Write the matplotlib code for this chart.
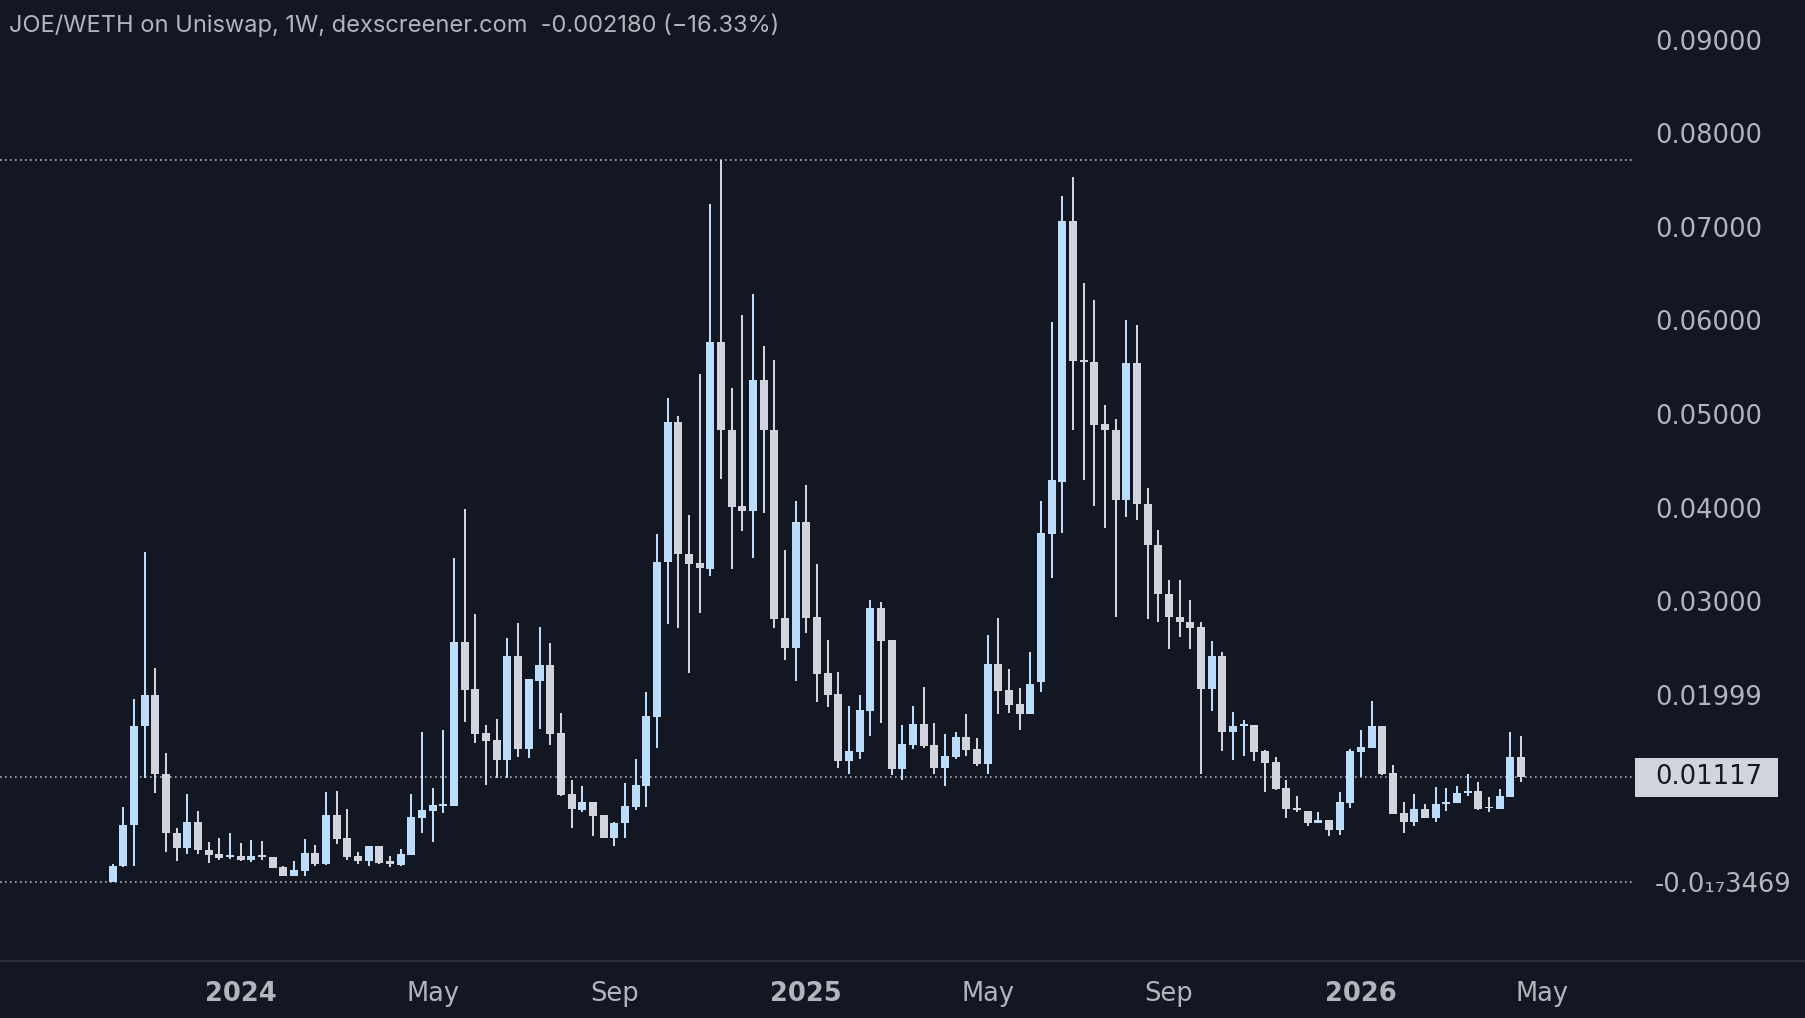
import matplotlib
matplotlib.use("Agg")
import matplotlib.pyplot as plt
import matplotlib.dates as mdates
from matplotlib.patches import Rectangle
from matplotlib.lines import Line2D
import numpy as np
import pandas as pd

# ---------------- data ----------------
first_week = "2023-10-09"
n_weeks = 133

opens = [0.00000, 0.00170, 0.00609, 0.01667, 0.01998, 0.01151, 0.00527, 0.00367, 0.00638, 0.00342,
         0.00299, 0.00270, 0.00278, 0.00235, 0.00288, 0.00264, 0.00164, 0.00068, 0.00118, 0.00313,
         0.00189, 0.00716, 0.00467, 0.00278, 0.00224, 0.00385, 0.00224, 0.00182, 0.00288, 0.00687,
         0.00759, 0.00815, 0.00812, 0.02561, 0.02059, 0.01595, 0.01517, 0.01303, 0.02415, 0.01421,
         0.02145, 0.02318, 0.01595, 0.00937, 0.00769, 0.00858, 0.00716, 0.00473, 0.00627, 0.00805,
         0.01029, 0.01766, 0.03414, 0.04913, 0.03507, 0.03405, 0.03344, 0.05764, 0.04824, 0.04018,
         0.03969, 0.05368, 0.04824, 0.02820, 0.02505, 0.03846, 0.02832, 0.02228, 0.02009, 0.01296,
         0.01392, 0.01827, 0.02931, 0.02585, 0.01207, 0.01464, 0.01688, 0.01464, 0.01221, 0.01332,
         0.01546, 0.01421, 0.01261, 0.02329, 0.02051, 0.01902, 0.01795, 0.02132, 0.03719, 0.04277,
         0.07067, 0.05570, 0.05556, 0.04896, 0.04830, 0.04085, 0.05546, 0.04043, 0.03599, 0.03075,
         0.02827, 0.02775, 0.02726, 0.02064, 0.02417, 0.01606, 0.01667, 0.01677, 0.01400, 0.01279,
         0.01001, 0.00787, 0.00759, 0.00627, 0.00662, 0.00556, 0.00847, 0.01392, 0.01435, 0.01667,
         0.01168, 0.00740, 0.00644, 0.00780, 0.00687, 0.00833, 0.00847, 0.00948, 0.00975, 0.00798,
         0.00780, 0.00911, 0.01335]
highs = [0.00190, 0.00805, 0.01955, 0.03522, 0.02283, 0.01375, 0.00574, 0.00937, 0.00759, 0.00424,
         0.00467, 0.00520, 0.00413, 0.00449, 0.00438, 0.00264, 0.00171, 0.00224, 0.00459, 0.00395,
         0.00965, 0.00972, 0.00777, 0.00317, 0.00385, 0.00385, 0.00278, 0.00349, 0.00937, 0.01600,
         0.01001, 0.01624, 0.03458, 0.03985, 0.02860, 0.01677, 0.01741, 0.02604, 0.02764, 0.02166,
         0.02721, 0.02550, 0.01802, 0.01090, 0.01029, 0.00858, 0.00716, 0.00645, 0.01054, 0.01314,
         0.02027, 0.03715, 0.05171, 0.04979, 0.03916, 0.05428, 0.07248, 0.07710, 0.05278, 0.06055,
         0.06279, 0.05726, 0.05580, 0.03547, 0.04067, 0.04243, 0.03397, 0.02587, 0.02247, 0.01880,
         0.01998, 0.03013, 0.02995, 0.02585, 0.01677, 0.01880, 0.02083, 0.01695, 0.01578, 0.01606,
         0.01795, 0.01535, 0.02639, 0.02817, 0.02276, 0.02076, 0.02454, 0.04067, 0.05984, 0.07334,
         0.07534, 0.06400, 0.06222, 0.05101, 0.04944, 0.06009, 0.05947, 0.04205, 0.03766, 0.03227,
         0.03227, 0.03013, 0.02775, 0.02574, 0.02455, 0.01811, 0.01731, 0.01677, 0.01410, 0.01332,
         0.01090, 0.00919, 0.00759, 0.00751, 0.00662, 0.00965, 0.01421, 0.01624, 0.01934, 0.01667,
         0.01250, 0.00858, 0.00940, 0.00833, 0.01012, 0.01001, 0.01026, 0.01154, 0.01065, 0.00911,
         0.00994, 0.01600, 0.01560]
lows = [0.00000, 0.00164, 0.00174, 0.01114, 0.00948, 0.00324, 0.00224, 0.00296, 0.00296, 0.00206,
        0.00235, 0.00246, 0.00224, 0.00217, 0.00235, 0.00153, 0.00068, 0.00068, 0.00064, 0.00171,
        0.00182, 0.00403, 0.00235, 0.00192, 0.00174, 0.00192, 0.00164, 0.00174, 0.00288, 0.00520,
        0.00424, 0.00740, 0.00812, 0.01713, 0.01488, 0.01036, 0.01108, 0.01108, 0.01339, 0.01328,
        0.01635, 0.01464, 0.00922, 0.00580, 0.00751, 0.00495, 0.00473, 0.00388, 0.00473, 0.00769,
        0.00805, 0.01428, 0.02758, 0.02709, 0.02228, 0.02874, 0.03273, 0.04305, 0.03344, 0.03752,
        0.03466, 0.03944, 0.02718, 0.02371, 0.02150, 0.02660, 0.01924, 0.01872, 0.01215, 0.01154,
        0.01314, 0.01560, 0.01702, 0.01143, 0.01090, 0.01421, 0.01435, 0.01154, 0.01026, 0.01314,
        0.01346, 0.01239, 0.01154, 0.01795, 0.01809, 0.01624, 0.01795, 0.02030, 0.03251, 0.03733,
        0.04830, 0.04300, 0.04019, 0.03781, 0.02827, 0.03895, 0.03872, 0.02812, 0.02775, 0.02488,
        0.02622, 0.02488, 0.01157, 0.01825, 0.01396, 0.01300, 0.01349, 0.01296, 0.00965, 0.00983,
        0.00687, 0.00751, 0.00602, 0.00627, 0.00495, 0.00502, 0.00794, 0.01119, 0.01435, 0.01139,
        0.00726, 0.00520, 0.00602, 0.00687, 0.00638, 0.00762, 0.00840, 0.00922, 0.00769, 0.00745,
        0.00780, 0.00911, 0.01065]
closes = [0.00170, 0.00609, 0.01667, 0.01998, 0.01151, 0.00527, 0.00367, 0.00638, 0.00342, 0.00288,
          0.00260, 0.00288, 0.00235, 0.00278, 0.00270, 0.00153, 0.00068, 0.00128, 0.00313, 0.00189,
          0.00716, 0.00456, 0.00264, 0.00224, 0.00385, 0.00206, 0.00189, 0.00299, 0.00698, 0.00769,
          0.00823, 0.00833, 0.02561, 0.02051, 0.01581, 0.01510, 0.01303, 0.02415, 0.01421, 0.02166,
          0.02318, 0.01581, 0.00929, 0.00777, 0.00858, 0.00709, 0.00473, 0.00634, 0.00812, 0.01036,
          0.01773, 0.03416, 0.04913, 0.03499, 0.03401, 0.03351, 0.05764, 0.04824, 0.04010, 0.03969,
          0.05368, 0.04824, 0.02812, 0.02505, 0.03846, 0.02824, 0.02219, 0.02002, 0.01296, 0.01400,
          0.01838, 0.02931, 0.02578, 0.01207, 0.01474, 0.01688, 0.01453, 0.01221, 0.01346, 0.01546,
          0.01410, 0.01261, 0.02329, 0.02044, 0.01891, 0.01795, 0.02115, 0.03733, 0.04291, 0.07067,
          0.05564, 0.05560, 0.04887, 0.04825, 0.04085, 0.05546, 0.04043, 0.03599, 0.03075, 0.02827,
          0.02775, 0.02717, 0.02064, 0.02417, 0.01606, 0.01668, 0.01688, 0.01392, 0.01275, 0.00994,
          0.00777, 0.00769, 0.00627, 0.00662, 0.00556, 0.00858, 0.01403, 0.01446, 0.01667, 0.01151,
          0.00726, 0.00644, 0.00780, 0.00687, 0.00833, 0.00858, 0.00954, 0.00975, 0.00780, 0.00787,
          0.00919, 0.01339, 0.01117]

ytick_values = [0.09, 0.08, 0.07, 0.06, 0.05, 0.04, 0.03, 0.02]
ytick_labels = ["0.09000", "0.08000", "0.07000", "0.06000", "0.05000", "0.04000",
                "0.03000", "0.01999"]
min_label = "-0.0\u2081\u20873469"
xtick_dates = ["2024-01-01", "2024-05-06", "2024-09-02", "2025-01-06",
               "2025-05-05", "2025-09-01", "2026-01-05", "2026-05-04"]
xtick_labels = ["2024", "May", "Sep", "2025", "May", "Sep", "2026", "May"]
title = "JOE/WETH on Uniswap, 1W, dexscreener.com  -0.002180 (\u221216.33%)"
last_price_label = "0.01117"

# ---------------- style ----------------
BG = "#131722"
UP = "#bcdcfb"
DOWN = "#d1d4dc"
TXT = "#b2b5be"

W, H = 1805, 1018
fig = plt.figure(figsize=(W / 100, H / 100), dpi=100, facecolor=BG)
ax_left, ax_right, ax_top, ax_bot = 0, 1635, 0, 960
ax = fig.add_axes([ax_left / W, 1 - ax_bot / H, (ax_right - ax_left) / W, (ax_bot - ax_top) / H])
ax.set_facecolor(BG)

dates = pd.date_range(first_week, periods=n_weeks, freq="7D")
x = mdates.date2num(dates)
o = np.array(opens); h = np.array(highs); l = np.array(lows); c = np.array(closes)
up = c >= o
cols = np.where(up, UP, DOWN)

ax.vlines(x, l, h, colors=cols, linewidth=1.45, zorder=3)
body_w = 7 * 0.75
bottoms = np.minimum(o, c)
heights = np.maximum(np.abs(c - o), 0.00014)
ax.bar(x, heights, bottom=bottoms, width=body_w, color=cols, linewidth=0, zorder=4)

# limits (pixel geometry of the reference)
px_per_week = 10.67
x0_px = 112.7
x_left = x[0] + (ax_left - x0_px) / px_per_week * 7
x_right = x[0] + (ax_right - x0_px) / px_per_week * 7
ax.set_xlim(x_left, x_right)
px_per_unit = 9360.0
zero_px = 882.0
ax.set_ylim((zero_px - ax_bot) / px_per_unit, (zero_px - ax_top) / px_per_unit)

# dotted reference lines
dot_kw = dict(color="#a9acb4", linewidth=1.2, linestyle=(0, (1.0, 2.0)), zorder=2)
ax.axhline(h.max(), **dot_kw)
ax.axhline(l.min(), **dot_kw)
ax.axhline(c[-1], **dot_kw)

for s in ax.spines.values():
    s.set_visible(False)

# y axis labels on right
ax.yaxis.tick_right()
yv = ytick_values + [l.min()]
yl = ytick_labels + [min_label]
ax.set_yticks(yv)
ax.set_yticklabels(yl)
ax.tick_params(axis="y", length=0, pad=14.4, labelsize=18.5, labelcolor=TXT)

# x axis labels
ax.set_xticks(mdates.date2num(pd.to_datetime(xtick_dates)))
ax.set_xticklabels(xtick_labels)
ax.tick_params(axis="x", length=0, pad=15, labelsize=18.5, labelcolor=TXT)
for lab in ax.get_xticklabels():
    if lab.get_text().isdigit():
        lab.set_fontweight("bold")
ax.grid(False)

# bottom border line
fig.add_artist(Line2D([0, 1], [1 - 960.5 / H, 1 - 960.5 / H], color="#2a2e39", linewidth=1.5))

# last price box
box_h = 39 / px_per_unit
rect = Rectangle((1.0, c[-1] - box_h / 2), (1778 - 1635) / 1635, box_h,
                 transform=ax.get_yaxis_transform(), facecolor=DOWN, edgecolor="none",
                 clip_on=False, zorder=10)
ax.add_patch(rect)
ax.text(1655 / 1635, c[-1], last_price_label, transform=ax.get_yaxis_transform(),
        ha="left", va="center", fontsize=18.5, color="#131722", clip_on=False, zorder=11)

# title
fig.text(9 / W, 1 - 25 / H, title, ha="left", va="center", fontsize=17,
         color=TXT, family=["Inter", "DejaVu Sans"])

fig.savefig("out.png", dpi=100, facecolor=BG)
